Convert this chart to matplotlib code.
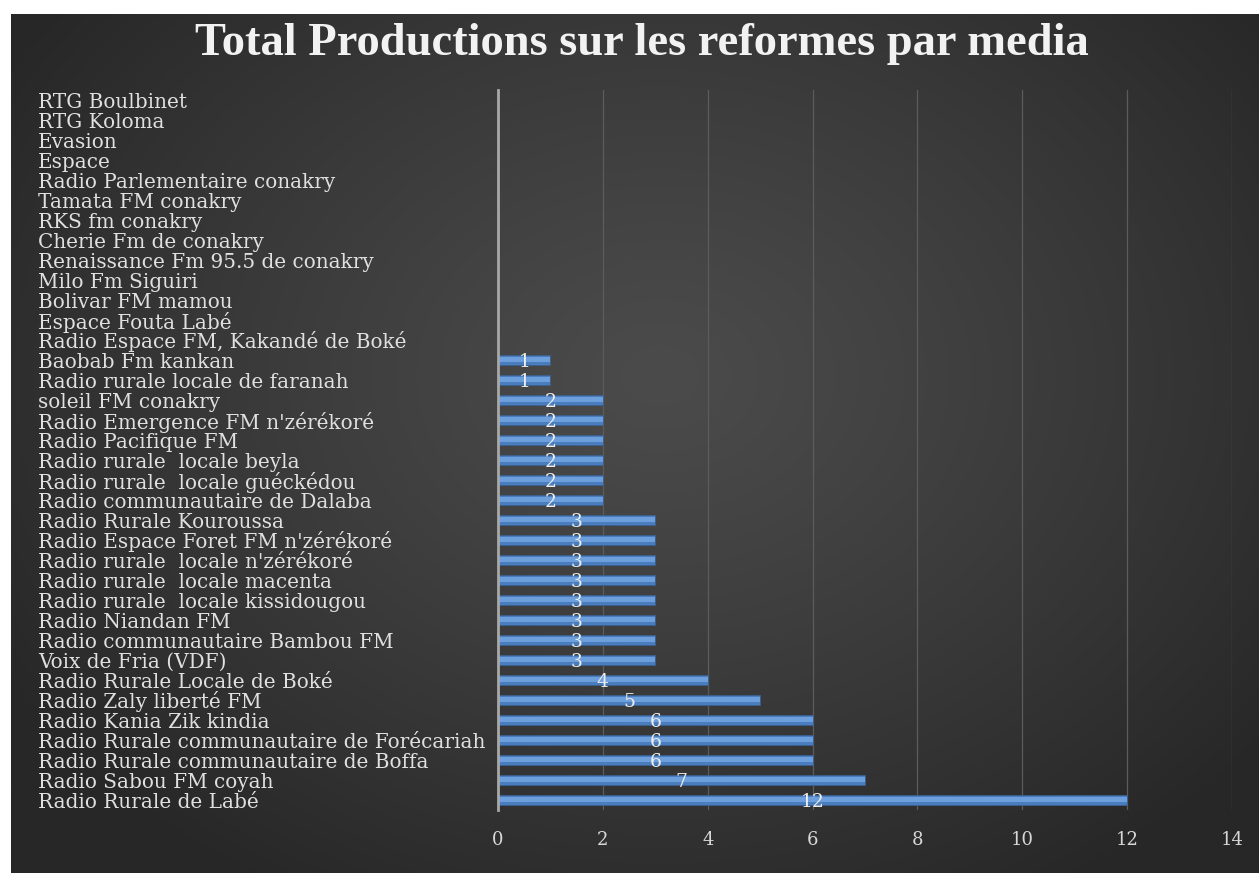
import numpy as np
import matplotlib
matplotlib.use("Agg")
import matplotlib.pyplot as plt

categories = [
    "RTG Boulbinet", "RTG Koloma", "Evasion", "Espace",
    "Radio Parlementaire conakry", "Tamata FM conakry", "RKS fm conakry",
    "Cherie Fm de conakry", "Renaissance Fm 95.5 de conakry", "Milo Fm Siguiri",
    "Bolivar FM mamou", "Espace Fouta Labé", "Radio Espace FM, Kakandé de Boké",
    "Baobab Fm kankan", "Radio rurale locale de faranah", "soleil FM conakry",
    "Radio Emergence FM n'zérékoré", "Radio Pacifique FM",
    "Radio rurale  locale beyla", "Radio rurale  locale guéckédou",
    "Radio communautaire de Dalaba", "Radio Rurale Kouroussa",
    "Radio Espace Foret FM n'zérékoré", "Radio rurale  locale n'zérékoré",
    "Radio rurale  locale macenta", "Radio rurale  locale kissidougou",
    "Radio Niandan FM", "Radio communautaire Bambou FM", "Voix de Fria (VDF)",
    "Radio Rurale Locale de Boké", "Radio Zaly liberté FM",
    "Radio Kania Zik kindia", "Radio Rurale communautaire de Forécariah",
    "Radio Rurale communautaire de Boffa", "Radio Sabou FM coyah",
    "Radio Rurale de Labé",
]
values = [0, 0, 0, 0, 0, 0, 0, 0, 0, 0, 0, 0, 0,
          1, 1, 2, 2, 2, 2, 2, 2, 3, 3, 3, 3, 3, 3, 3, 3,
          4, 5, 6, 6, 6, 7, 12]
xticks = [0, 2, 4, 6, 8, 10, 12, 14]
title = "Total Productions sur les reformes par media"

W, H = 1259, 873
fig = plt.figure(figsize=(W / 100, H / 100), dpi=100)
fig.patch.set_facecolor("white")

# background panel with radial gradient
bg = fig.add_axes([11 / W, 0, 1 - 11 / W, (H - 14) / H])
bg.set_axis_off()
ny, nx = 400, 600
yy, xx = np.mgrid[0:ny, 0:nx]
cx, cy = nx * 0.52, ny * 0.42
r = np.sqrt(((xx - cx) / (nx * 0.62)) ** 2 + ((yy - cy) / (ny * 0.70)) ** 2)
r = np.clip(r, 0, 1)
inner, outer = 0x4b / 255, 0x27 / 255
g = inner + (outer - inner) * r ** 1.2
img = np.dstack([g, g, g])
bg.imshow(img, aspect="auto", extent=[0, 1, 0, 1], origin="upper")
bg.set_xlim(0, 1)
bg.set_ylim(0, 1)

ax = fig.add_axes([498 / W, (H - 810) / H, 734 / W, 720 / H])
ax.patch.set_alpha(0)
ypos = np.arange(len(categories))
ax.barh(ypos, values, height=0.54, color="#4a7dbd", edgecolor="#3a5f8f",
        linewidth=0.6, zorder=3)
ax.barh(ypos - 0.04, values, height=0.24, color="#6c9fdc", linewidth=0, zorder=4)

ax.set_xlim(0, 14)
ax.set_ylim(len(categories) - 0.5, -0.5)
ax.set_xticks(xticks)
ax.set_xticklabels([str(t) for t in xticks], family="DejaVu Serif",
                   fontsize=13, color="#d8d8d8")
ax.tick_params(axis="x", length=0, pad=15)
ax.set_yticks(ypos)
ax.set_yticklabels(categories, family="DejaVu Serif", fontsize=14.4,
                   color="#e0e0e0", ha="left")
ax.tick_params(axis="y", length=0, pad=(498 - 38) * 0.72)
ax.grid(axis="x", color="#5c5c5c", linewidth=0.9, zorder=0)
ax.set_axisbelow(True)
for s in ["top", "right", "bottom"]:
    ax.spines[s].set_visible(False)
ax.spines["left"].set_color("#a8a8a8")
ax.spines["left"].set_linewidth(2)
ax.spines["left"].set_zorder(5)

for y, v in zip(ypos, values):
    if v:
        ax.text(v / 2, y + 0.12, str(v), ha="center", va="center",
                family="DejaVu Serif", fontsize=13.5, color="#ececec", zorder=6)

fig.text(642 / W, 1 - 44 / H, title, ha="center", va="center",
         family="Liberation Serif", fontweight="bold", fontsize=33.5,
         color="#f2f2f2")

fig.savefig("out.png", dpi=100, facecolor=fig.get_facecolor())
